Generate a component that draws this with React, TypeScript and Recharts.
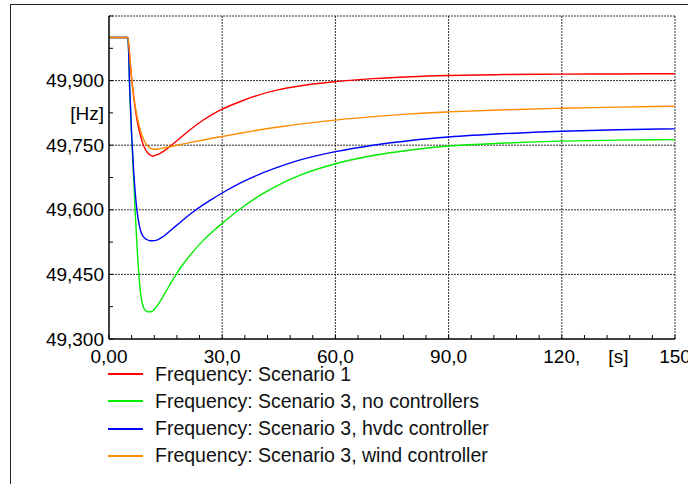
import { LineChart, Line, XAxis, YAxis, CartesianGrid } from 'recharts';

// time in seconds
const time = [0, 5, 5.5, 6, 6.5, 7, 7.5, 8, 8.5, 9, 9.5, 10, 10.5, 11, 11.5, 12, 13, 14, 15, 17, 19, 22, 25, 28, 30, 35, 40, 45, 50, 60, 70, 80, 90, 105, 120, 135, 150];

// frequency in Hz
const scenario1 = [50.0, 50.0, 49.955, 49.905, 49.865, 49.832, 49.805, 49.784, 49.767, 49.753, 49.743, 49.735, 49.73, 49.727, 49.725, 49.7255, 49.7285, 49.7333, 49.7393, 49.7533, 49.768, 49.7895, 49.8085, 49.8245, 49.8335, 49.852, 49.8675, 49.879, 49.887, 49.8975, 49.9045, 49.909, 49.9118, 49.914, 49.915, 49.9155, 49.916];
const noControllers = [50.0, 50.0, 49.875, 49.77, 49.68, 49.585, 49.505, 49.44, 49.398, 49.377, 49.3675, 49.3643, 49.363, 49.3632, 49.3646, 49.3684, 49.3797, 49.394, 49.4091, 49.439, 49.466, 49.5, 49.529, 49.5535, 49.5685, 49.6035, 49.6335, 49.658, 49.678, 49.707, 49.726, 49.739, 49.748, 49.755, 49.7595, 49.7617, 49.763];
const hvdcController = [50.0, 50.0, 49.88, 49.775, 49.695, 49.635, 49.593, 49.565, 49.548, 49.539, 49.534, 49.531, 49.529, 49.528, 49.528, 49.5283, 49.5308, 49.5358, 49.5423, 49.5571, 49.5718, 49.593, 49.612, 49.6285, 49.639, 49.663, 49.683, 49.6995, 49.714, 49.735, 49.75, 49.761, 49.769, 49.777, 49.7825, 49.786, 49.788];
const windController = [50.0, 50.0, 49.955, 49.905, 49.868, 49.838, 49.814, 49.795, 49.779, 49.767, 49.758, 49.751, 49.746, 49.743, 49.741, 49.7405, 49.7413, 49.7428, 49.7446, 49.748, 49.7515, 49.757, 49.7622, 49.7672, 49.7703, 49.7783, 49.7858, 49.7923, 49.7983, 49.8083, 49.8163, 49.8228, 49.8273, 49.8323, 49.8358, 49.8384, 49.8405];

const seriesNames = [
    'Frequency: Scenario 1',
    'Frequency: Scenario 3, no controllers',
    'Frequency: Scenario 3, hvdc controller',
    'Frequency: Scenario 3, wind controller',
];
const seriesKeys = ['s1', 'noCtrl', 'hvdc', 'wind'];
const seriesColors = ['#ff0000', '#00ee00', '#0000ff', '#ff8c00'];

const xTicks = [0, 6, 12, 18, 24, 30, 36, 42, 48, 54, 60, 66, 72, 78, 84, 90, 96, 102, 108, 114, 120, 126, 132, 135, 138, 144, 150];
const xTickLabels = ['0,00', '', '', '', '', '30,0', '', '', '', '', '60,0', '', '', '', '', '90,0', '', '', '', '', '120,', '', '', '[s]', '', '', '150'];
const yTicks = [49.3, 49.375, 49.45, 49.525, 49.6, 49.675, 49.75, 49.825, 49.9, 49.975, 50.05];
const yTickLabels = ['49,300', '', '49,450', '', '49,600', '', '49,750', '[Hz]', '49,900', '', ''];
const gridX = [30, 60, 90, 120, 150];
const gridY = [49.45, 49.6, 49.75, 49.9, 50.05];

const data = time.map((t, i) => ({
    t,
    s1: scenario1[i],
    noCtrl: noControllers[i],
    hvdc: hvdcController[i],
    wind: windController[i],
}));

const FONT = '"Liberation Sans", Arial, sans-serif';

const XTick = (props: any) => {
    const { x, y, index } = props;
    const label = xTickLabels[index];
    const isMark = label !== '[s]';
    return (
        <g>
            {isMark && <line x1={x} x2={x} y1={y} y2={y - 4} stroke="#000" strokeWidth={1} />}
            {label && (
                <text x={x} y={y + 24} textAnchor="middle" fontSize={19} fill="#000" fontFamily={FONT}>
                    {label}
                </text>
            )}
        </g>
    );
};

const YTick = (props: any) => {
    const { x, y, index } = props;
    const label = yTickLabels[index];
    return (
        <g>
            <line x1={x} x2={x + 4} y1={y} y2={y} stroke="#000" strokeWidth={1} />
            {label && (
                <text x={x - 5} y={y} dy="0.35em" textAnchor="end" fontSize={19} fill="#000" fontFamily={FONT}>
                    {label}
                </text>
            )}
        </g>
    );
};

export default function App() {
    return (
        <div style={{ position: 'absolute', left: 0, top: 0, width: 688, height: 484, background: '#fff', fontFamily: FONT }}>
            <div
                style={{
                    position: 'absolute',
                    left: 10,
                    top: 4,
                    width: 678,
                    height: 480,
                    borderLeft: '1px solid #222',
                    borderTop: '1px solid #222',
                }}
            />
            <div style={{ position: 'absolute', left: 0, top: 0 }}>
                <LineChart width={688} height={484} data={data} margin={{ top: 16, right: 13, left: 0, bottom: 115 }}>
                    <CartesianGrid
                        horizontalValues={gridY}
                        verticalValues={gridX}
                        stroke="#333"
                        strokeDasharray="2 1"
                    />
                    <XAxis
                        dataKey="t"
                        type="number"
                        domain={[0, 150]}
                        ticks={xTicks}
                        interval={0}
                        height={30}
                        tickSize={0}
                        tickMargin={0}
                        tickLine={false}
                        tick={<XTick />}
                        axisLine={{ stroke: '#000', strokeWidth: 1.5 }}
                        allowDataOverflow
                    />
                    <YAxis
                        type="number"
                        domain={[49.3, 50.05]}
                        ticks={yTicks}
                        interval={0}
                        width={109}
                        tickSize={0}
                        tickMargin={0}
                        tickLine={false}
                        tick={<YTick />}
                        axisLine={{ stroke: '#000', strokeWidth: 1.5 }}
                        allowDataOverflow
                    />
                    {seriesKeys.map((key, i) => (
                        <Line
                            key={key}
                            dataKey={key}
                            name={seriesNames[i]}
                            type="monotone"
                            stroke={seriesColors[i]}
                            strokeWidth={1.4}
                            dot={false}
                            activeDot={false}
                            isAnimationActive={false}
                        />
                    ))}
                </LineChart>
            </div>
            {seriesNames.map((name, i) => (
                <div
                    key={name}
                    style={{
                        position: 'absolute',
                        left: 108,
                        top: 374 + i * 27.3 - 12,
                        height: 24,
                        display: 'flex',
                        alignItems: 'center',
                        whiteSpace: 'nowrap',
                    }}
                >
                    <div style={{ width: 35, height: 2, background: seriesColors[i] }} />
                    <span style={{ marginLeft: 12, fontSize: 19.5, color: '#111' }}>{name}</span>
                </div>
            ))}
        </div>
    );
}
